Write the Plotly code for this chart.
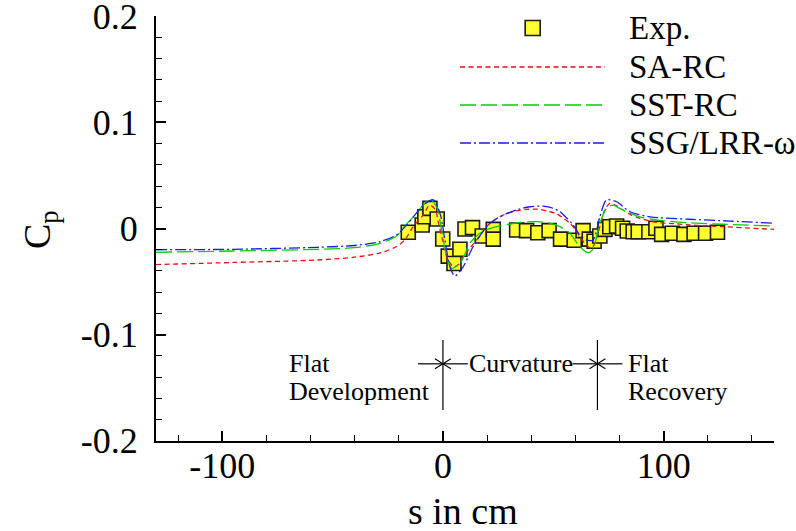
import plotly.graph_objects as go

# ---------------- data ----------------
exp_s = [-15.7, -9.4, -8.2, -5.9, -2.6, -0.1, 2.4, 5.0, 7.7, 10.0, 13.4, 17.8, 22.8, 22.8,
         33.4, 37.9, 43.0, 48.1, 53.3, 59.5, 63.5, 66.3, 68.5, 71.1, 73.4, 75.6, 78.7, 81.4,
         83.5, 86.2, 88.5, 93.3, 96.5, 99.1, 103.9, 109.2, 113.8, 119.0, 124.4]
exp_cp = [-0.0036, 0.0033, 0.011, 0.019, 0.009, -0.0099, -0.026, -0.033, -0.0196, -0.0005,
          0.0008, -0.007, -0.0008, -0.010, -0.0014, -0.002, -0.004, -0.002, -0.010, -0.011,
          -0.002, -0.010, -0.012, -0.007, -0.0008, 0.0017, 0.0024, 0.0002, -0.0024, -0.003,
          -0.003, -0.003, 0.0002, -0.0055, -0.0045, -0.0055, -0.0045, -0.0045, -0.0036]

sa_s = [-130, -95, -57, -40, -28.5, -21, -17, -13.5, -9, -6, -3.5, -2, 0, 1.7, 4.7, 7, 9.2,
        12, 15.2, 18, 21.3, 25, 28.8, 33, 38, 44, 48, 51.5, 55, 57.5, 60, 62, 65, 67.2, 68.8,
        70.2, 72, 73.3, 75.6, 78, 81.6, 85, 89.2, 96.7, 105, 111.8, 126.9, 150]
sa_cp = [-0.034, -0.032, -0.0297, -0.027, -0.023, -0.017, -0.010, 0.0017, 0.0127, 0.022,
         0.018, 0.005, -0.012, -0.0265, -0.036, -0.034, -0.0265, -0.019, -0.011, -0.003,
         0.005, 0.010, 0.014, 0.0165, 0.018, 0.018, 0.016, 0.014, 0.009, 0.005, -0.001,
         -0.0077, -0.0155, -0.0187, -0.014, -0.0045, 0.008, 0.0174, 0.0237, 0.022, 0.0174,
         0.013, 0.0096, 0.0058, 0.0045, 0.0033, 0.0017, -0.0008]

sst_s = [-130, -95, -57, -40, -28.5, -21, -17, -13.4, -8.9, -5.9, -2.9, -0.6, 1.7, 3.9, 7.7,
         10, 12.2, 16.8, 20, 24.3, 30, 34.9, 42.4, 48.5, 53, 57.5, 62, 65.8, 68.1, 71.1, 74.1,
         77.1, 80, 83.2, 89.2, 95, 104.3, 115, 127, 150]
sst_cp = [-0.0224, -0.0212, -0.0196, -0.018, -0.014, -0.007, 0.003, 0.011, 0.022, 0.0275,
          0.0205, -0.0014, -0.0265, -0.0375, -0.033, -0.024, -0.014, -0.0045, -0.001, 0.0017,
          0.004, 0.0058, 0.0064, 0.005, 0.0017, -0.0045, -0.017, -0.0228, -0.0187, 0.005,
          0.019, 0.022, 0.019, 0.0158, 0.011, 0.0085, 0.0064, 0.005, 0.004, 0.0024]

ssg_s = [-130, -95, -57, -40, -28.5, -21, -17, -13.4, -8.9, -4.4, -1.3, 0.9, 3.2, 5.4, 9.2,
         13.7, 19.8, 24, 28.8, 34, 39.4, 45.4, 50, 53, 56, 59, 62, 65, 68, 71.1, 74.1, 78.7,
         84.8, 93.8, 111.8, 130, 149.6]
ssg_cp = [-0.020, -0.0196, -0.0177, -0.016, -0.0124, -0.006, 0.002, 0.011, 0.022, 0.027,
          0.014, -0.011, -0.036, -0.0447, -0.036, -0.017, 0.0017, 0.009, 0.014, 0.018, 0.0205,
          0.021, 0.019, 0.0158, 0.010, 0.0033, -0.0061, -0.0108, -0.0108, 0.011, 0.0268,
          0.0252, 0.0158, 0.011, 0.0087, 0.007, 0.005]

series_names = ["Exp.", "SA-RC", "SST-RC", "SSG/LRR-ω"]
x_ticks = [-100, 0, 100]
x_ticktext = ["-100", "0", "100"]
y_ticks = [-0.2, -0.1, 0, 0.1, 0.2]
y_ticktext = ["-0.2", "-0.1", "0", "0.1", "0.2"]
region_bounds = [0, 70]

FONT = "Liberation Serif"
RED, GREEN, BLUE = "#e81010", "#00d000", "#1a1af0"
YEL = "#ffff30"

fig = go.Figure()
fig.add_trace(go.Scatter(x=exp_s, y=exp_cp, mode="markers", name=series_names[0],
                         marker=dict(symbol="square", size=14, color=YEL,
                                     line=dict(color="#1a1a1a", width=1.6))))
styles = [(sa_s, sa_cp, RED, "5px,3.5px"),
          (sst_s, sst_cp, GREEN, "16px,5px"),
          (ssg_s, ssg_cp, BLUE, "11px,3px,2px,3px")]
for (xs, ys, col, dash), nm in zip(styles, series_names[1:]):
    fig.add_trace(go.Scatter(x=xs, y=ys, mode="lines", name=nm,
                             line=dict(color=col, width=1.3, dash=dash,
                                       shape="spline", smoothing=0.8)))

shapes = []
annotations = []
# region markers
ya = -0.1275
for b in region_bounds:
    shapes.append(dict(type="line", xref="x", yref="y", x0=b, x1=b, y0=-0.105, y1=-0.171,
                       line=dict(color="black", width=1.2)))
    for sgn in (-1, 1):
        shapes.append(dict(type="line", xref="x", yref="y", xsizemode="pixel", xanchor=b,
                           x0=0, x1=25 * sgn, y0=ya, y1=ya, line=dict(color="black", width=1.2)))
        for v in (-5, 5):
            shapes.append(dict(type="line", xref="x", yref="y", xsizemode="pixel", xanchor=b,
                               ysizemode="pixel", yanchor=ya, x0=0, x1=8 * sgn, y0=0, y1=v,
                               line=dict(color="black", width=1.1)))

txt_font = dict(family=FONT, size=26, color="black")
annotations += [
    dict(x=-70.5, y=-0.1275, xref="x", yref="y", text="Flat", showarrow=False,
         xanchor="left", yanchor="middle", font=txt_font),
    dict(x=-70.5, y=-0.1539, xref="x", yref="y", text="Development", showarrow=False,
         xanchor="left", yanchor="middle", font=txt_font),
    dict(x=35.2, y=-0.1275, xref="x", yref="y", text="Curvature", showarrow=False,
         xanchor="center", yanchor="middle", font=txt_font),
    dict(x=83.0, y=-0.1275, xref="x", yref="y", text="Flat", showarrow=False,
         xanchor="left", yanchor="middle", font=txt_font),
    dict(x=83.0, y=-0.1539, xref="x", yref="y", text="Recovery", showarrow=False,
         xanchor="left", yanchor="middle", font=txt_font),
]

# manual legend
L, H, W = 156, 425, 618
def px(x):
    return (x - L) / W
def py(y):
    return (441 - y) / H
leg_rows = [28, 67, 105, 143]
shapes.append(dict(type="rect", xref="paper", yref="paper", xsizemode="pixel", ysizemode="pixel",
                   xanchor=px(532.7), yanchor=py(leg_rows[0]), x0=-7.5, x1=7.5, y0=-7.5, y1=7.5,
                   fillcolor=YEL, line=dict(color="#1a1a1a", width=1.6)))
for (xs, ys, col, dash), r in zip(styles, leg_rows[1:]):
    shapes.append(dict(type="line", xref="paper", yref="paper", x0=px(460), x1=px(605),
                       y0=py(r), y1=py(r), line=dict(color=col, width=1.3, dash=dash)))
for nm, r in zip(series_names, leg_rows):
    annotations.append(dict(x=px(627), y=py(r), xref="paper", yref="paper", text=nm,
                            showarrow=False, xanchor="left", yanchor="middle",
                            font=dict(family=FONT, size=33, color="black")))

# axis titles
annotations.append(dict(x=px(40), y=py(230), xref="paper", yref="paper", text="C<sub>p</sub>",
                        textangle=-90, showarrow=False, xanchor="center", yanchor="middle",
                        font=dict(family=FONT, size=38, color="black")))
annotations.append(dict(x=px(463), y=py(511), xref="paper", yref="paper", text="s in cm",
                        showarrow=False, xanchor="center", yanchor="middle",
                        font=dict(family=FONT, size=38, color="black")))

fig.update_layout(
    width=796, height=531,
    margin=dict(l=156, r=22, t=16, b=90, autoexpand=False),
    paper_bgcolor="white", plot_bgcolor="white",
    showlegend=False,
    shapes=shapes, annotations=annotations,
    font=dict(family=FONT, color="black"),
    xaxis=dict(range=[-130, 150], tickvals=x_ticks, ticktext=x_ticktext,
               ticks="inside", ticklen=10, tickwidth=1.8, tickcolor="black",
               minor=dict(dtick=20, tick0=0, ticks="inside", ticklen=6, tickwidth=1.2,
                          tickcolor="black"),
               showline=True, linecolor="black", linewidth=2.2, showgrid=False, zeroline=False,
               tickfont=dict(family=FONT, size=36, color="black"), ticklabelstandoff=-8,
               ticklabeloverflow="allow", automargin=False),
    yaxis=dict(range=[-0.2002, 0.2002], tickvals=y_ticks, ticktext=y_ticktext,
               ticks="inside", ticklen=10, tickwidth=1.8, tickcolor="black",
               minor=dict(dtick=0.02, tick0=0, ticks="inside", ticklen=6, tickwidth=1.2,
                          tickcolor="black"),
               showline=True, linecolor="black", linewidth=2.2, showgrid=False, zeroline=False,
               tickfont=dict(family=FONT, size=36, color="black"), ticklabelstandoff=9,
               ticklabeloverflow="allow", automargin=False),
)

fig.write_html("out.html")
